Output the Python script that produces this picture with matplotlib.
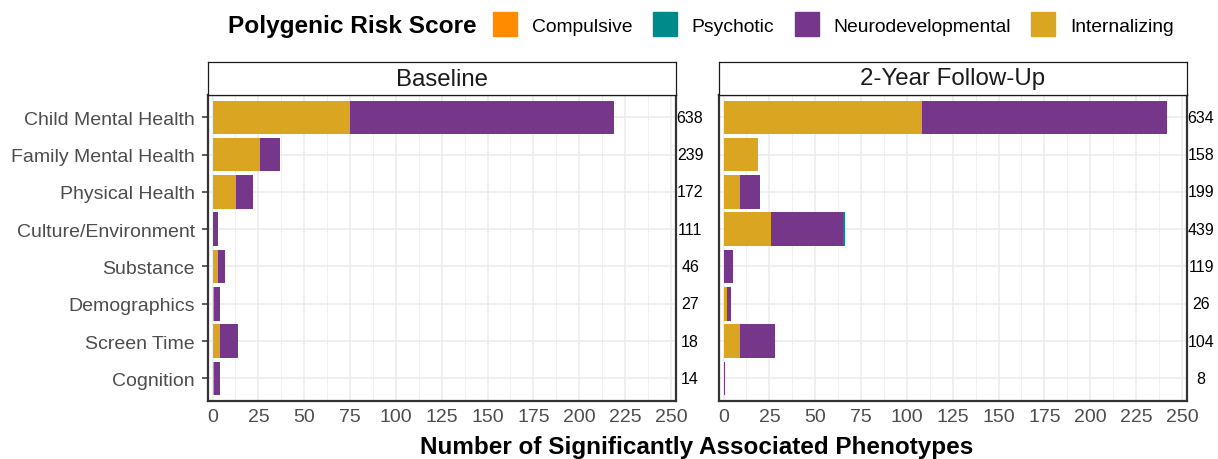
import matplotlib.pyplot as plt
import matplotlib.patches as mpatches
import numpy as np

plt.rcParams['font.family'] = ['Liberation Sans', 'DejaVu Sans']

categories = ["Child Mental Health", "Family Mental Health", "Physical Health",
              "Culture/Environment", "Substance", "Demographics", "Screen Time", "Cognition"]

# stacked counts per PRS, baseline
base_internalizing = [75, 26, 13, 0, 3, 1, 4, 1]
base_neurodev = [144, 11, 9, 3, 4, 3, 10, 3]
base_psychotic = [0, 0, 0, 0, 0, 0, 0, 0]
base_compulsive = [0, 0, 0, 0, 0, 0, 0, 0]
base_totals = [638, 239, 172, 111, 46, 27, 18, 14]

# 2-year follow-up
fu_internalizing = [108, 19, 9, 26, 0, 2, 9, 0]
fu_neurodev = [134, 0, 11, 39, 5, 2, 19, 1]
fu_psychotic = [0, 0, 0, 1, 0, 0, 0, 0]
fu_compulsive = [0, 0, 0, 0, 0, 0, 0, 0]
fu_totals = [634, 158, 199, 439, 119, 26, 104, 8]

prs_names = ["Compulsive", "Psychotic", "Neurodevelopmental", "Internalizing"]
prs_colors = {"Compulsive": "#FF8C00", "Psychotic": "#008B8B",
              "Neurodevelopmental": "#76368A", "Internalizing": "#DAA520"}

panels = [
    ("Baseline", [base_internalizing, base_neurodev, base_psychotic, base_compulsive], base_totals),
    ("2-Year Follow-Up", [fu_internalizing, fu_neurodev, fu_psychotic, fu_compulsive], fu_totals),
]
stack_order = ["Internalizing", "Neurodevelopmental", "Psychotic", "Compulsive"]

W, H = 1218, 460
fig = plt.figure(figsize=(W / 100, H / 100), dpi=100)

panel_left = [208, 719]
panel_w = 468
ax_bottom = 1 - 401.7 / H
ax_h = (401.7 - 96) / H

y = np.arange(len(categories))

for i, (title, series, totals) in enumerate(panels):
    ax = fig.add_axes([panel_left[i] / W, ax_bottom, panel_w / W, ax_h])
    left = np.zeros(len(categories))
    for name, vals in zip(stack_order, series):
        vals = np.array(vals, dtype=float)
        ax.barh(y, vals, left=left, height=0.9, color=prs_colors[name], linewidth=0, zorder=3)
        left += vals

    ax.set_xlim(-2.5, 252.8)
    ax.set_ylim(len(categories) - 0.4, -0.6)
    ax.set_xticks(np.arange(0, 251, 25))
    ax.set_xticks(np.arange(12.5, 251, 25), minor=True)
    ax.set_yticks(y)
    ax.grid(True, which='major', color='#EBEBEB', linewidth=1.1, zorder=0)
    ax.grid(True, which='minor', axis='x', color='#EBEBEB', linewidth=0.55, zorder=0)
    ax.set_axisbelow(True)
    ax.tick_params(axis='x', which='both', length=0, labelsize=14, labelcolor='#4D4D4D', pad=5)
    if i == 0:
        ax.set_yticklabels(categories)
        ax.tick_params(axis='y', length=4, width=1.1, color='#333333', labelsize=14,
                       labelcolor='#4D4D4D', pad=5.5)
    else:
        ax.set_yticklabels([])
        ax.tick_params(axis='y', length=0)
    for s in ax.spines.values():
        s.set_color('#333333')
        s.set_linewidth(1.6)

    for yy, t in zip(y, totals):
        ax.text(260.5, yy, str(t), ha='center', va='center', fontsize=11.5, color='black',
                clip_on=False)

    # facet strip
    sax = fig.add_axes([panel_left[i] / W, 1 - 96 / H, panel_w / W, 33 / H])
    sax.set_xticks([])
    sax.set_yticks([])
    for s in sax.spines.values():
        s.set_color('#1A1A1A')
        s.set_linewidth(0.9)
    sax.text(0.5, 0.5, title, ha='center', va='center', fontsize=17.3, color='#1A1A1A',
             transform=sax.transAxes)

fig.text(697 / W, 1 - 448 / H, "Number of Significantly Associated Phenotypes",
         ha='center', va='center', fontsize=17.5, fontweight='bold')

fig.text(228 / W, 1 - 26 / H, "Polygenic Risk Score", ha='left', va='center',
         fontsize=17.6, fontweight='bold')
handles = [mpatches.Patch(color=prs_colors[n], label=n) for n in prs_names]
fig.legend(handles=handles, ncol=4, loc='center left', bbox_to_anchor=(493 / W, 1 - 25.3 / H),
           frameon=False, fontsize=13.9, handlelength=1.24, handleheight=1.535,
           handletextpad=0.78, columnspacing=1.05, borderpad=0, borderaxespad=0)

fig.savefig("out.png", dpi=100)
